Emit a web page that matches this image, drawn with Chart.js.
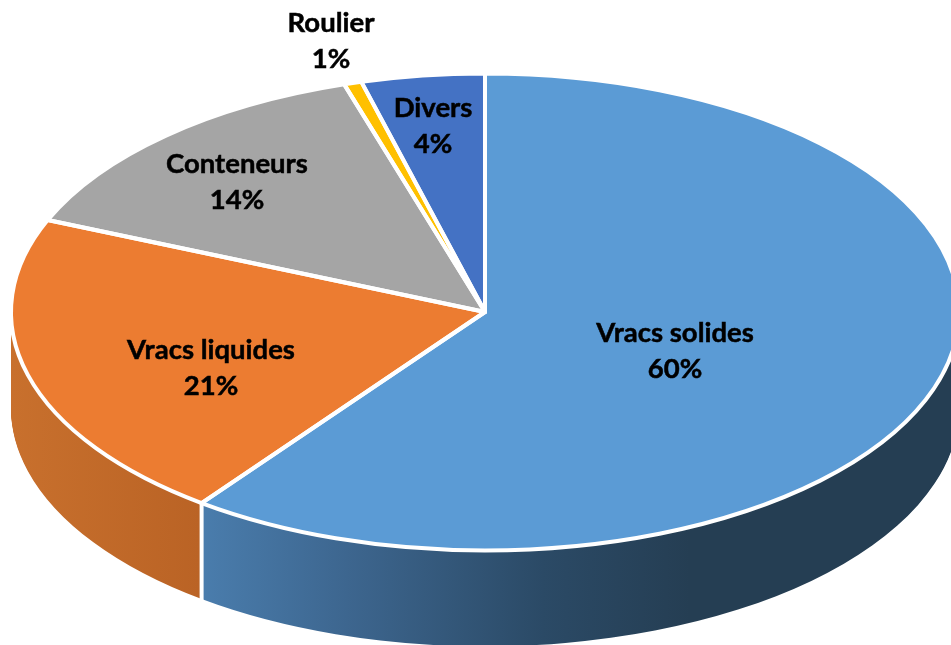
<!DOCTYPE html>
<html>
<head>
<meta charset="utf-8">
<title>Trafic par type</title>
<script src="https://cdn.jsdelivr.net/npm/chart.js@4"></script>
<style>
    html, body { margin: 0; padding: 0; background: #fff; overflow: hidden; }
    canvas { display: block; }
</style>
</head>
<body>
<canvas id="chartTrafic" width="951" height="645"></canvas>
<script>
// valeurs (en %)
const categories = ['Vracs solides', 'Vracs liquides', 'Conteneurs', 'Roulier', 'Divers'];
const valeurs = [60.2, 21.1, 13.9, 0.6, 4.2];

const couleurs = ['#5B9BD5', '#EC7C31', '#A5A5A5', '#FFC000', '#4472C4'];

// centre de chaque etiquette, placees a la main dans l'original
const posEtiquettes = [[675, 351], [211, 368], [237, 182], [331, 41], [433, 126]];

const aplat = 0.503;       // ecrasement vertical du disque
const epaisseur = 96;      // hauteur de la tranche
const bordure = 4;

// degrade de la tranche visible, seulement les 2 parts de devant
function degradeTranche(ctx, i) {
    if (i === 0) {
        const g = ctx.createLinearGradient(200, 0, 690, 0);
        g.addColorStop(0, '#4A7DAD');
        g.addColorStop(0.3, '#3D668F');
        g.addColorStop(0.7, '#2B4A66');
        g.addColorStop(1, '#253E53');
        return g;
    }
    const g = ctx.createLinearGradient(12, 0, 200, 0);
    g.addColorStop(0, '#C8702D');
    g.addColorStop(1, '#BA6325');
    return g;
}

const pie3d = {
    id: 'pie3d',
    beforeDatasetDraw(chart, args) {
        const ctx = chart.ctx;
        const arcs = args.meta.data;
        const cy = arcs[0].y;
        const applatir = function (dy) {
            ctx.translate(0, cy + dy);
            ctx.scale(1, aplat);
            ctx.translate(0, -cy);
        };

        // empilement de la tranche, du bas vers le haut
        for (let d = epaisseur; d > 0; d--) {
            ctx.save();
            applatir(d);
            arcs.forEach(function (arc, i) {
                if (i > 1) return;
                const opts = arc.options;
                arc.options = Object.assign({}, opts, { backgroundColor: degradeTranche(ctx, i), borderWidth: 0 });
                arc.draw(ctx);
                arc.options = opts;
            });
            ctx.restore();
        }

        // separation blanche entre les 2 parts de devant
        const a = arcs[0].endAngle;
        const xs = arcs[0].x + arcs[0].outerRadius * Math.cos(a);
        const ys = cy + arcs[0].outerRadius * Math.sin(a) * aplat;
        ctx.save();
        ctx.strokeStyle = '#fff';
        ctx.lineWidth = bordure;
        ctx.beginPath();
        ctx.moveTo(xs, ys);
        ctx.lineTo(xs, ys + epaisseur + 2);
        ctx.stroke();
        ctx.restore();

        ctx.save();
        applatir(0);
    },
    afterDatasetDraw(chart, args) {
        const ctx = chart.ctx;
        ctx.restore();

        // contour blanc d'epaisseur constante, hors de l'ecrasement
        const arcs = args.meta.data;
        arcs.forEach(function (arc) {
            ctx.save();
            ctx.translate(0, arc.y);
            ctx.scale(1, aplat);
            ctx.translate(0, -arc.y);
            ctx.beginPath();
            ctx.moveTo(arc.x, arc.y);
            ctx.arc(arc.x, arc.y, arc.outerRadius, arc.startAngle, arc.endAngle);
            ctx.closePath();
            ctx.setTransform(1, 0, 0, 1, 0, 0);
            ctx.strokeStyle = '#fff';
            ctx.lineWidth = bordure;
            ctx.lineJoin = 'round';
            ctx.stroke();
            ctx.restore();
        });

        // etiquettes : categorie + pourcentage
        ctx.save();
        ctx.fillStyle = '#000';
        ctx.strokeStyle = '#000';
        ctx.lineWidth = 0.5;
        ctx.font = 'bold 27.5px Lato, "Open Sans", sans-serif';
        ctx.textAlign = 'center';
        ctx.textBaseline = 'middle';
        categories.forEach(function (nom, i) {
            const p = posEtiquettes[i];
            const pct = Math.round(valeurs[i]) + '%';
            ctx.fillText(nom, p[0], p[1] - 18);
            ctx.strokeText(nom, p[0], p[1] - 18);
            ctx.fillText(pct, p[0], p[1] + 18);
            ctx.strokeText(pct, p[0], p[1] + 18);
        });
        ctx.restore();
    }
};

new Chart(document.getElementById('chartTrafic').getContext('2d'), {
    type: 'pie',
    data: {
        labels: categories,
        datasets: [{
            data: valeurs,
            backgroundColor: couleurs,
            borderWidth: 0,
            radius: 474,
            clip: false
        }]
    },
    options: {
        responsive: false,
        animation: false,
        layout: { padding: { left: 19, bottom: 21 } },
        plugins: {
            legend: { display: false },
            tooltip: { enabled: false }
        }
    },
    plugins: [pie3d]
});
</script>
</body>
</html>
